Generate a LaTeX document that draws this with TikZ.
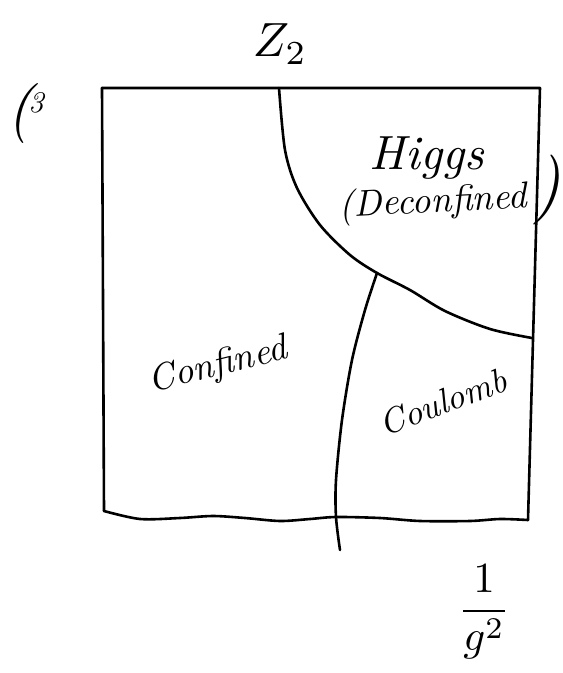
\documentclass[tikz,border=0pt]{standalone}
\usepackage{tikz}
\tikzset{
  ink/.style={line width=2.6pt, line cap=round, line join=round, black},
  hand/.style={inner sep=0pt, font=\itshape},
}
\begin{document}
\begin{tikzpicture}[x=1pt,y=-1pt]
\useasboundingbox (0,0) rectangle (563,673);
% corners of the box
\coordinate (tl) at (102,88);
\coordinate (tr) at (540,88);
\coordinate (br) at (528,520);
\coordinate (bl) at (104,511);
\coordinate (ztop) at (279,88);
\coordinate (tri) at (377,273);
\coordinate (hr) at (532,338);
\coordinate (cend) at (340,550);
% box
\draw[ink] (tl) -- (tr) -- (br);
\draw[ink] (tl) -- (bl);
\draw[ink] plot[smooth] coordinates {(bl) (140,519) (180,518) (213,516) (245,518) (280,521) (310,519) (336,517) (380,518) (420,521) (470,521) (500,519) (br)};
% Higgs boundary
\draw[ink] plot[smooth] coordinates {(ztop) (285,150) (297,188) (320,225) (350,255) (tri) (410,290) (445,311) (490,329) (hr)};
% Coulomb boundary
\draw[ink] plot[smooth] coordinates {(tri) (365,310) (352,360) (342,420) (336,480) (336,517) (cend)};
% labels
\node[hand, scale=4.8] (z2) at (280,44) {$Z_2$};
\node[hand, scale=6] (pg) at (20,113) {(};
\node[hand, scale=3] (pg3) at (36,103) {3};
\node[hand, scale=4.8] (higgs) at (427,158) {Higgs};
\node[hand, scale=3.7, rotate=3] (dec) at (433,203) {(Deconfined};
\node[hand, scale=7] (par) at (547,190) {)};
\node[hand, scale=3.7, rotate=14] (conf) at (218,366) {Confined};
\node[hand, scale=3.5, rotate=20] (coul) at (443,402) {Coulomb};
\node[hand, scale=4.3] (g2) at (484,612) {$\displaystyle\frac{1}{g^2}$};
\end{tikzpicture}
\end{document}
